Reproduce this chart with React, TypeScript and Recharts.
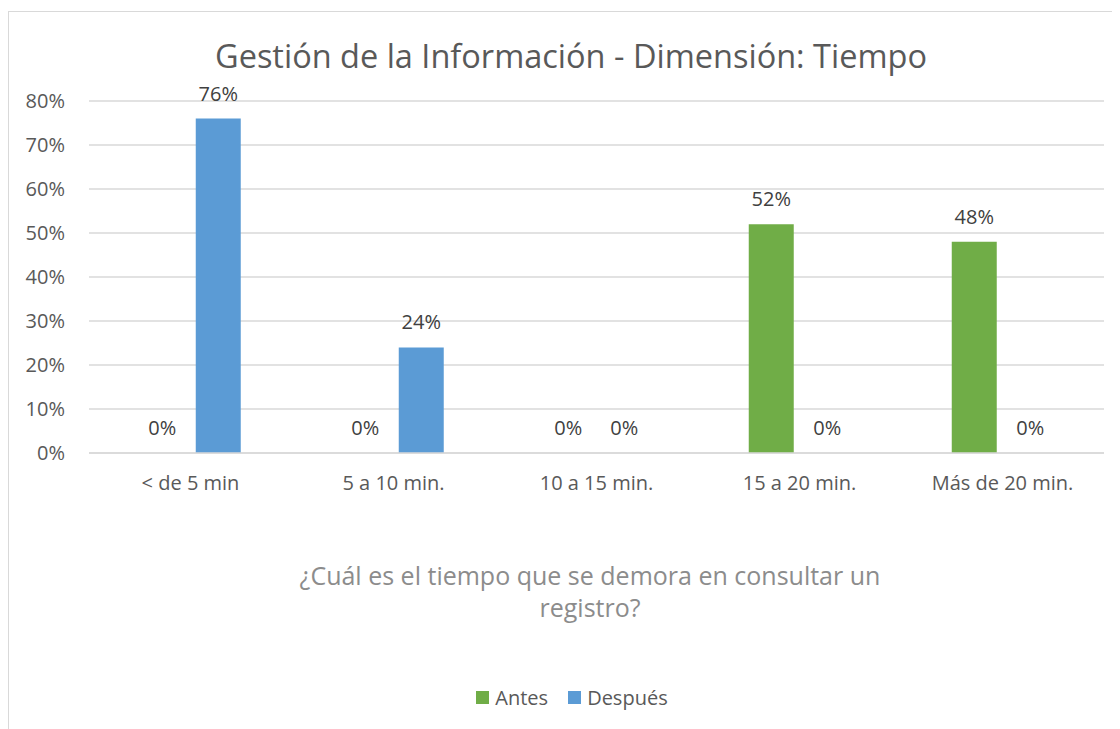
import { BarChart, Bar, XAxis, YAxis, CartesianGrid, Legend, LabelList } from "recharts";

const categories = ["< de 5 min", "5 a 10 min.", "10 a 15 min.", "15 a 20 min.", "Más de 20 min."];
const antes = [0, 0, 0, 0.52, 0.48];
const despues = [0.76, 0.24, 0, 0, 0];
const yTicks = [0, 0.1, 0.2, 0.3, 0.4, 0.5, 0.6, 0.7, 0.8];

const data = categories.map((name, i) => ({ name, Antes: antes[i], Después: despues[i] }));

const FONT = "'Open Sans', sans-serif";
const pct = (v: number) => `${Math.round(v * 100)}%`;

// custom label so that 0% values also get their label
const renderLabel = (props: any) => {
  const { x, y, width, value } = props;
  if (value == null) return null;
  return (
    <text
      x={Number(x) + Number(width) / 2}
      y={Number(y) - 18}
      textAnchor="middle"
      fill="#404040"
      fontSize={20}
      fontFamily={FONT}
    >
      {pct(Number(value))}
    </text>
  );
};

const renderLegend = (props: any) => (
  <div style={{ display: "flex", justifyContent: "center", fontSize: 20, fontFamily: FONT, color: "#595959" }}>
    {(props.payload || []).map((p: any) => (
      <div key={p.value} style={{ display: "flex", alignItems: "center", margin: "0 10px" }}>
        <span style={{ width: 13, height: 13, background: p.color, marginRight: 6, display: "inline-block" }} />
        <span>{p.value}</span>
      </div>
    ))}
  </div>
);

export default function App() {
  return (
    <div
      style={{
        position: "relative",
        width: 1111,
        height: 717,
        marginTop: 3,
        borderLeft: "1px solid #d9d9d9",
        borderTop: "1px solid #d9d9d9",
        fontFamily: FONT,
        overflow: "hidden",
      }}
    >
      <div
        style={{
          position: "absolute",
          left: 0,
          top: 25,
          width: 1124,
          textAlign: "center",
          fontSize: 32.5,
          color: "#595959",
          lineHeight: "38px",
        }}
      >
        Gestión de la Información - Dimensión: Tiempo
      </div>
      <div
        style={{
          position: "absolute",
          left: 271,
          top: 547,
          width: 620,
          textAlign: "center",
          fontSize: 25,
          color: "#8c8c8c",
          lineHeight: "32px",
        }}
      >
        ¿Cuál es el tiempo que se demora en consultar un
        <br />
        registro?
      </div>
      <BarChart
        width={1111}
        height={717}
        data={data}
        margin={{ top: 89, right: 16, left: 0, bottom: 0 }}
        barCategoryGap="25%"
        barGap={11}
      >
        <CartesianGrid vertical={false} stroke="#d9d9d9" strokeWidth={1.5} />
        <XAxis
          dataKey="name"
          height={249}
          tickSize={0}
          tickMargin={23}
          axisLine={{ stroke: "#d9d9d9", strokeWidth: 1.5 }}
          tick={{ fill: "#595959", fontSize: 20, fontFamily: FONT }}
          interval={0}
        />
        <YAxis
          width={80}
          domain={[0, 0.8]}
          ticks={yTicks}
          tickFormatter={pct}
          axisLine={false}
          tickSize={0}
          tickMargin={24}
          tick={{ fill: "#595959", fontSize: 20, fontFamily: FONT }}
        />
        <Legend
          verticalAlign="bottom"
          content={renderLegend}
          wrapperStyle={{ bottom: 18, left: 0, width: 1126 }}
        />
        <Bar dataKey="Antes" fill="#70ad47" minPointSize={0.01} isAnimationActive={false}>
          <LabelList dataKey="Antes" content={renderLabel} />
        </Bar>
        <Bar dataKey="Después" fill="#5b9bd5" minPointSize={0.01} isAnimationActive={false}>
          <LabelList dataKey="Después" content={renderLabel} />
        </Bar>
      </BarChart>
    </div>
  );
}
